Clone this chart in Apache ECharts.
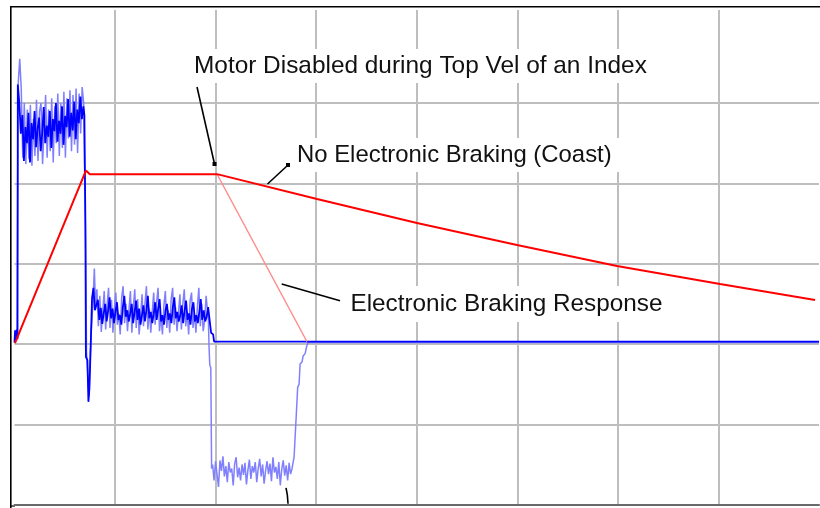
<!DOCTYPE html>
<html><head><meta charset="utf-8">
<script src="https://cdn.jsdelivr.net/npm/echarts@6.0.0/dist/echarts.min.js"></script>
<style>html,body{margin:0;padding:0;background:#fff;}#c{width:820px;height:508px;}</style>
</head><body><div id="c"></div>
<script>
// ---- axis ranges (one division = 100 units) ----
const X_MIN = 0, X_MAX = 800, X_STEP = 100;
const Y_MIN = -200, Y_MAX = 415.9, Y_STEP = 100;

// ---- velocity traces ----
const coastVelocity = [[0.5,1],[71,216],[75,211.5],[201.4,211.5],[300.8,180.5],[400.2,150.7],[499.7,123.3],[599.1,97.2],[701.6,74.7],[796.1,54.8]];
const brakeVelocity = [[201.4,211.5],[290.8,3]];

// ---- current trace, no electronic braking (dark blue) ----
const coastCurStart = [[0,2],[0.6,17],[1.4,4],[2.2,18],[3,6],[3.3,323]];
const coastCurBand1Span = [4.8, 68.5];
const coastCurBand1 = [300,262,285,228,270,250,288,226,275,255,290,245,268,282,240,262,295,250,272,258,290,244,280,265,300,252,278,262,296,248,284,270,305,258,288,266,302,255,292,275,308,280,296];
const coastCurDrop = [[69.5,285],[70.5,150],[71,-16],[72.5,-20],[73.5,-72],[74.5,-55],[75.5,-14],[76.5,30],[77.1,57]];
const coastCurBand2Span = [78.5, 194];
const coastCurBand2 = [70,42,40,55,30,45,25,38,50,28,42,58,32,44,26,40,52,30,36,24,46,60,34,42,28,38,50,26,40,54,30,44,24,36,48,28,42,60,32,40,26,38,52,30,44,56,28,36,24,42,50,30,38,26,46,58,32,40,28,36,48,26,42,54,30,38,24,44,52,28,36,26,40,56,30,42,28,34,46,30];
const coastCurEnd = [[194.5,30],[195.5,14],[197.5,12],[198.5,3],[800,3]];

// ---- current trace, electronic braking (light blue) ----
const brakeCurStart = [[0,1],[0.8,15],[1.8,5],[2.6,17],[3.5,320]];
const brakeCurBand1Span = [5.2, 68.8];
const brakeCurBand1 = [355,318,232,300,224,292,230,298,222,280,234,304,228,290,300,224,268,310,232,292,240,306,226,296,250,312,234,300,244,314,232,306,256,316,240,310,248,318,238,312,262,320,300];
const brakeCurDrop = [[69.8,300],[70.8,120],[71.6,-10],[73,-40],[74,-66],[75.2,-20],[76.5,20],[78,50],[79.4,94]];
const brakeCurBand2Span = [80.5, 192];
const brakeCurBand2 = [50,68,22,60,15,40,66,18,48,70,20,55,14,44,64,24,38,12,58,72,26,50,16,42,66,14,46,68,20,56,12,34,62,22,50,72,18,44,14,40,64,24,52,70,16,36,12,48,66,20,42,14,56,70,24,46,16,38,62,18,50,68,22,40,12,54,64,20,38,14,46,70,22,50,16,30,60,40];
const brakeCurTrans = [[192.8,30],[193.5,-5],[194.2,-26],[195.2,-30],[196,-155]];
const brakeCurBand3Span = [197, 276];
const brakeCurBand3 = [-150,-170,-146,-162,-178,-145,-158,-140,-165,-152,-172,-147,-160,-155,-176,-149,-141,-166,-154,-170,-150,-163,-148,-175,-157,-144,-168,-152,-160,-147,-172,-155,-143,-165,-150,-174,-158,-146,-162,-149,-171,-141,-160,-153,-168,-147,-176,-156,-145,-164,-151,-170,-148,-162,-155];
const brakeCurRise = [[277,-157],[278,-141],[279.3,-141],[280,-93],[281,-93],[281.6,-54],[283,-50],[284,-25],[286,-22],[287,-15],[289,-12],[290.5,-3],[292,2],[800,2]];

// ---- annotation leaders ----
const leaderMotor = [[181.5,320],[198.9,224.1]];
const leaderCoast = [[272,222.9],[251.6,199.2]];
const leaderBrake = [[265.7,74.7],[323.7,53.9]];
const leaderBottom = [[270,-179.3],[271.3,-188],[272,-199]];

// sampled bands on a uniform time base
function band(span, vals) {
  const n = vals.length;
  return vals.map((v, i) => [span[0] + (span[1] - span[0]) * i / (n - 1), v]);
}

const coastCurrent = [].concat(coastCurStart, band(coastCurBand1Span, coastCurBand1), coastCurDrop,
  band(coastCurBand2Span, coastCurBand2), coastCurEnd);
const brakeCurrent = [].concat(brakeCurStart, band(brakeCurBand1Span, brakeCurBand1), brakeCurDrop,
  band(brakeCurBand2Span, brakeCurBand2), brakeCurTrans, band(brakeCurBand3Span, brakeCurBand3), brakeCurRise);

function lineSeries(data, color, width, z) {
  return { type: 'line', data: data, showSymbol: false, symbol: 'none', z: z, silent: true,
    lineStyle: { color: color, width: width }, itemStyle: { color: color } };
}
function leader(data, markIdx) {
  return { type: 'line', z: 10, silent: true, showSymbol: true, symbol: 'rect', symbolSize: 4,
    data: data.map((p, i) => i === markIdx ? { value: p } : { value: p, symbol: 'none' }),
    lineStyle: { color: '#000', width: 1.6 }, itemStyle: { color: '#000' } };
}

const FF = '"Liberation Sans", Arial, sans-serif';
const chart = echarts.init(document.getElementById('c'), null, { renderer: 'canvas' });
chart.setOption({
  animation: false,
  backgroundColor: '#fff',
  grid: { left: 14.5, right: 1, top: 10, bottom: 3.4, containLabel: false, outerBoundsMode: 'none' },
  xAxis: {
    type: 'value', min: X_MIN, max: X_MAX, interval: X_STEP,
    axisLine: { show: true, onZero: false, lineStyle: { color: '#6a6a6a', width: 2 } },
    axisTick: { show: false }, axisLabel: { show: false },
    splitLine: { show: true, showMinLine: false, showMaxLine: false, lineStyle: { color: '#bebebe', width: 2 } }
  },
  yAxis: {
    type: 'value', min: Y_MIN, max: Y_MAX, interval: Y_STEP,
    axisLine: { show: false }, axisTick: { show: false }, axisLabel: { show: false },
    splitLine: { show: true, showMinLine: true, showMaxLine: false,
      lineStyle: { width: 2, color: ['#bebebe','#bebebe','#bebebe','#bebebe','#bebebe','#bebebe','rgba(0,0,0,0)','rgba(0,0,0,0)'] } }
  },
  series: [
    lineSeries(brakeCurrent, '#8080ff', 1.5, 2),
    lineSeries(coastCurrent, '#0000ff', 1.8, 3),
    lineSeries(brakeVelocity, '#ff8c8c', 1.3, 4),
    lineSeries(coastVelocity, '#ff0000', 2, 5),
    leader(leaderMotor, 1),
    leader(leaderCoast, 0),
    leader(leaderBrake, -1),
    leader(leaderBottom, -1)
  ],
  graphic: [
    { type: 'polyline', silent: true, z: 100, shape: { points: [[10.8, 508], [10.8, 6.7], [820, 6.7]] },
      style: { stroke: '#000', lineWidth: 1.6, fill: null } },
    { type: 'polyline', silent: true, z: 1, shape: { points: [[10, 506], [15, 506]] },
      style: { stroke: '#6a6a6a', lineWidth: 2, fill: null } },
    { type: 'text', silent: true, z: 50, x: 191, y: 66,
      style: { text: 'Motor Disabled during Top Vel of an Index', font: '24.4px ' + FF, fill: '#111',
        backgroundColor: '#fff', padding: [5, 8, 5, 3], align: 'left', verticalAlign: 'middle' } },
    { type: 'text', silent: true, z: 50, x: 294, y: 155,
      style: { text: 'No Electronic Braking (Coast)', font: '23.9px ' + FF, fill: '#111',
        backgroundColor: '#fff', padding: [5, 9, 5, 3], align: 'left', verticalAlign: 'middle' } },
    { type: 'text', silent: true, z: 50, x: 347.5, y: 304,
      style: { text: 'Electronic Braking Response', font: '24.3px ' + FF, fill: '#111',
        backgroundColor: '#fff', padding: [6, 8, 6, 3], align: 'left', verticalAlign: 'middle' } }
  ]
});
</script></body></html>
